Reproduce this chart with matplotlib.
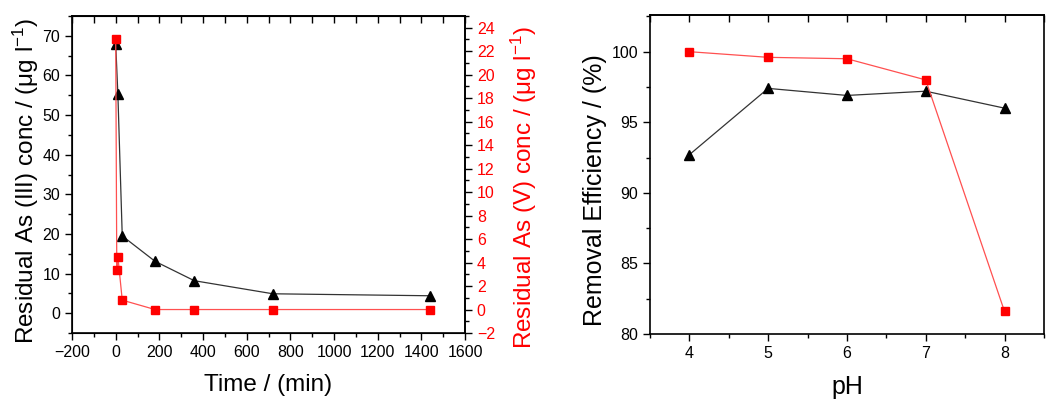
import matplotlib
matplotlib.use("Agg")
from matplotlib import pyplot as plt
from matplotlib.ticker import MultipleLocator

plt.rcParams["font.family"] = ["Liberation Sans", "DejaVu Sans"]
plt.rcParams["mathtext.fontset"] = "custom"
plt.rcParams["mathtext.rm"] = "Liberation Sans"
plt.rcParams["mathtext.it"] = "Liberation Sans:italic"

# kinetics (left panel)
time_iii = [0, 10, 30, 180, 360, 720, 1440]
as_iii = [68.0, 55.2, 19.5, 13.1, 8.2, 4.9, 4.4]
time_v = [0, 5, 10, 30, 180, 360, 720, 1440]
as_v = [23.0, 3.4, 4.5, 0.8, 0.0, 0.0, 0.0, 0.0]

# pH effect (right panel)
ph = [4, 5, 6, 7, 8]
eff_iii = [92.7, 97.4, 96.9, 97.2, 96.0]
eff_v = [100.0, 99.6, 99.5, 98.0, 81.6]

RED = "#ff0000"
LINE_RED = "#ff5050"
LINE_BLK = "#333333"
TICK_FS = 11.5
LABEL_FS = 17.5

fig = plt.figure(figsize=(10.5, 4.04), dpi=100)


def style_axis(ax, xmaj, xmin, ymaj, ymin):
    ax.xaxis.set_major_locator(MultipleLocator(xmaj))
    ax.xaxis.set_minor_locator(MultipleLocator(xmin))
    ax.yaxis.set_major_locator(MultipleLocator(ymaj))
    ax.yaxis.set_minor_locator(MultipleLocator(ymin))
    ax.tick_params(which="both", direction="out", top=False, right=False,
                   labelsize=TICK_FS, width=1.0)
    ax.tick_params(which="major", length=5)
    ax.tick_params(which="minor", length=3)
    for s in ax.spines.values():
        s.set_linewidth(1.2)
    top = ax.secondary_xaxis("top")
    top.xaxis.set_major_locator(MultipleLocator(xmaj))
    top.xaxis.set_minor_locator(MultipleLocator(xmin))
    top.tick_params(which="both", direction="in", labeltop=False, width=1.0)
    top.tick_params(which="major", length=5)
    top.tick_params(which="minor", length=5)
    top.spines["top"].set_linewidth(1.2)


# ---- left panel
ax1 = fig.add_axes([0.0686, 0.1757, 0.3743, 0.7847])
ax1.plot(time_iii, as_iii, color=LINE_BLK, lw=0.9, marker="^", ms=7,
         mfc="black", mec="black", zorder=3)
ax1.set_xlim(-200, 1600)
ax1.set_ylim(-5, 75)
style_axis(ax1, 200, 100, 10, 5)
ax1.set_xlabel("Time / (min)", fontsize=LABEL_FS, labelpad=10)
ax1.set_ylabel(r"Residual As (III) conc / ($\mathregular{\mu}$g l$^{-1}$)",
               fontsize=LABEL_FS, labelpad=1)
ax1.yaxis.label.set_y(0.48)

ax2 = ax1.twinx()
ax2.plot(time_v, as_v, color=LINE_RED, lw=0.9, marker="s", ms=5.5,
         mfc=RED, mec=RED, zorder=4)
ax2.set_ylim(-2, 25)
ax2.yaxis.set_major_locator(MultipleLocator(2))
ax2.yaxis.set_minor_locator(MultipleLocator(1))
ax2.tick_params(which="both", direction="out", labelsize=TICK_FS,
                labelcolor=RED, width=1.0)
ax2.tick_params(which="major", length=5)
ax2.tick_params(which="minor", length=3)
ax2.spines["right"].set_linewidth(1.2)
ax2.set_ylabel(r"Residual As (V) conc / ($\mathregular{\mu}$g l$^{-1}$)",
               fontsize=LABEL_FS, color=RED, labelpad=10)
ax2.yaxis.label.set_y(0.46)

# ---- right panel
ax3 = fig.add_axes([0.619, 0.1733, 0.3752, 0.7896])
ax3.plot(ph, eff_iii, color=LINE_BLK, lw=0.9, marker="^", ms=7,
         mfc="black", mec="black", zorder=3)
ax3.plot(ph, eff_v, color=LINE_RED, lw=0.9, marker="s", ms=5.5,
         mfc=RED, mec=RED, zorder=4)
ax3.set_xlim(3.5, 8.5)
ax3.set_ylim(80, 102.6)
style_axis(ax3, 1, 0.5, 5, 2.5)
ax3.set_xlabel("pH", fontsize=18, labelpad=10)
ax3.set_ylabel("Removal Efficiency / (%)", fontsize=18, labelpad=3)
ax3.yaxis.label.set_y(0.45)

fig.savefig("out.png", dpi=100)
